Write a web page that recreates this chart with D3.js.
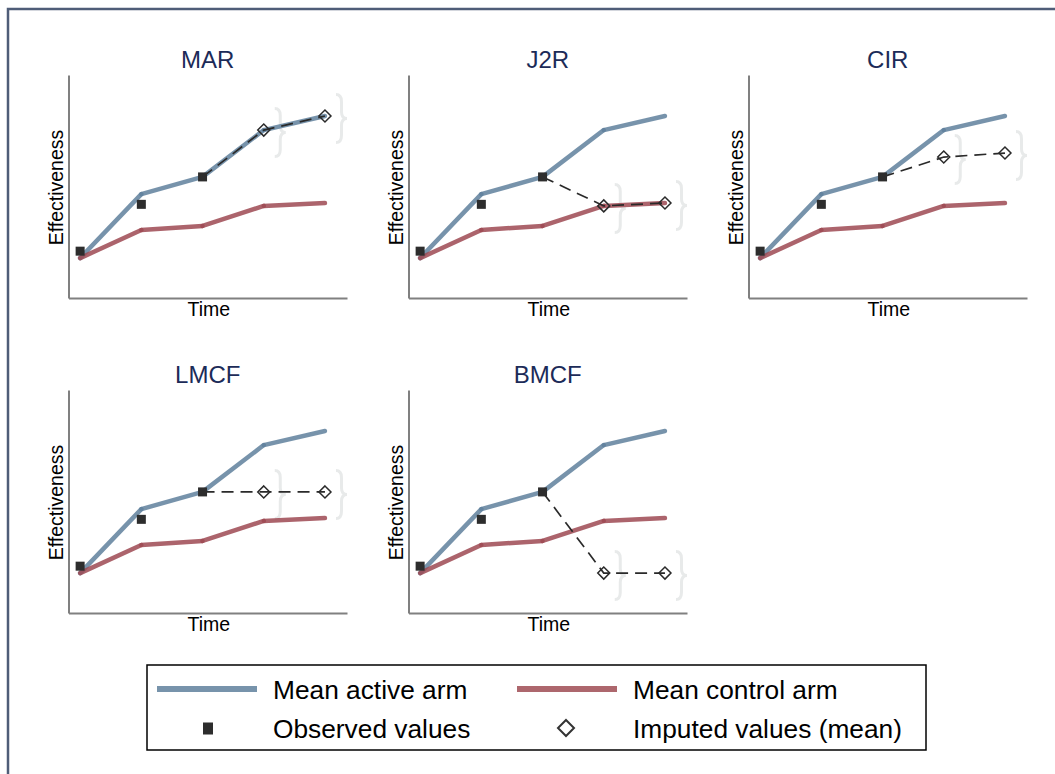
<!DOCTYPE html>
<html><head><meta charset="utf-8">
<script src="https://cdn.jsdelivr.net/npm/d3@7"></script>
<style>body{margin:0;background:#fff;overflow:hidden;} text{font-family:"Liberation Sans",Arial,sans-serif;}</style>
</head><body><svg id="c" width="1055" height="774"></svg>
<script>
// ---- data ----
const panelNames = ["MAR", "J2R", "CIR", "LMCF", "BMCF"];
const panelCols = [0, 1, 2, 0, 1];
const panelRows = [0, 0, 0, 1, 1];
const times = [1, 2, 3, 4, 5];
const activeMean = [1.79, 4.66, 5.43, 7.53, 8.16];
const controlMean = [1.79, 3.05, 3.23, 4.13, 4.26];
const observedTimes = [1, 2, 3];
const observedValues = [2.10, 4.20, 5.43];
const imputedTimes = [4, 5];
const imputedMAR = [7.53, 8.16];
const imputedJ2R = [4.13, 4.26];
const imputedCIR = [6.32, 6.50];
const imputedLMCF = [5.43, 5.43];
const imputedBMCF = [1.79, 1.79];
const imputedByPanel = [imputedMAR, imputedJ2R, imputedCIR, imputedLMCF, imputedBMCF];
const legendLabels = ["Mean active arm", "Mean control arm", "Observed values", "Imputed values (mean)"];

// ---- styles ----
const activeColor = "#5f809c", controlColor = "#9d4952";
const activeLegend = "#7793ab", controlLegend = "#ad676d";
const markColor = "#2d2d2d";
const titleColor = "#1c2b58";
const axisColor = "#808080";

const svg = d3.select("#c");
svg.append("rect").attr("width", 1055).attr("height", 774).attr("fill", "#fff");
svg.append("rect").attr("x", 8).attr("y", 9).attr("width", 1100).attr("height", 900)
  .attr("fill", "none").attr("stroke", "#4f5d78").attr("stroke-width", 2.5);

const colStep = 340, rowStep = 315;

panelNames.forEach((name, p) => {
  const dx = panelCols[p] * colStep, dy = panelRows[p] * rowStep;
  const x = d3.scaleLinear().domain([0.81, 5.36]).range([68.5 + dx, 347 + dx]);
  const y = d3.scaleLinear().domain([0, 10]).range([298 + dy, 75 + dy]);
  const g = svg.append("g");
  const [x0, x1] = x.range();
  const [yb, yt] = y.range();

  // axes
  const ax = g.append("g").attr("transform", `translate(0,${yb})`)
    .call(d3.axisBottom(x).tickValues([]).tickSizeOuter(0));
  const ay = g.append("g").attr("transform", `translate(${x0},0)`)
    .call(d3.axisLeft(y).tickValues([]).tickSizeOuter(0));
  [ax, ay].forEach(a => a.select(".domain").attr("stroke", axisColor).attr("stroke-width", 2));

  // title and labels
  g.append("text").attr("x", (x0 + x1) / 2).attr("y", 68 + dy).attr("text-anchor", "middle")
    .attr("font-size", 24).attr("fill", titleColor).text(name);
  g.append("text").attr("x", (x0 + x1) / 2 + 1).attr("y", yb + 18).attr("text-anchor", "middle")
    .attr("font-size", 19.5).attr("fill", "#000").text("Time");
  g.append("text").attr("transform", `translate(${x0 - 6},${(yb + yt) / 2 + 1}) rotate(-90)`)
    .attr("text-anchor", "middle").attr("font-size", 19.5).attr("fill", "#000").text("Effectiveness");

  // braces
  const imp = imputedByPanel[p];
  imputedTimes.forEach((t, i) => {
    const px = x(t), py = y(imp[i]) + 2.5;
    const a = px + 11, b = px + 16.5, c = px + 22, h = 24;
    const d = `M${a},${py - h} Q${b},${py - h} ${b},${py - h + 7} L${b},${py - 7} Q${b},${py} ${c},${py}` +
      ` Q${b},${py} ${b},${py + 7} L${b},${py + h - 7} Q${b},${py + h} ${a},${py + h}`;
    g.append("path").attr("d", d).attr("fill", "none").attr("stroke", "#e8eaea").attr("stroke-width", 3);
  });

  // mean lines as segments
  [[activeMean, activeColor], [controlMean, controlColor]].forEach(([vals, col]) => {
    for (let i = 0; i < times.length - 1; i++) {
      g.append("line")
        .attr("x1", x(times[i])).attr("y1", y(vals[i]))
        .attr("x2", x(times[i + 1])).attr("y2", y(vals[i + 1]))
        .attr("stroke", col).attr("stroke-opacity", 0.85).attr("stroke-width", 4.5)
        .attr("stroke-linecap", "round");
    }
  });

  // dashed imputation path
  const lastObsT = observedTimes[observedTimes.length - 1];
  const lastObsV = observedValues[observedValues.length - 1];
  const pathPts = [[x(lastObsT), y(lastObsV)]].concat(imputedTimes.map((t, i) => [x(t), y(imp[i])]));
  g.append("path").attr("d", d3.line()(pathPts)).attr("fill", "none")
    .attr("stroke", "#2a2a2a").attr("stroke-width", 1.7).attr("stroke-dasharray", "12,7");

  // observed squares
  observedTimes.forEach((t, i) => {
    g.append("rect").attr("x", x(t) - 4.5).attr("y", y(observedValues[i]) - 4.5)
      .attr("width", 9).attr("height", 9).attr("fill", markColor);
  });
  // imputed diamonds
  imputedTimes.forEach((t, i) => {
    const px = x(t), py = y(imp[i]), r = 6;
    g.append("path").attr("d", `M${px},${py - r} L${px + r},${py} L${px},${py + r} L${px - r},${py} Z`)
      .attr("fill", "none").attr("stroke", "#2a2a2a").attr("stroke-width", 1.5);
  });
});

// ---- legend ----
const lg = svg.append("g");
lg.append("rect").attr("x", 147).attr("y", 665).attr("width", 779).attr("height", 85)
  .attr("fill", "#fff").attr("stroke", "#000").attr("stroke-width", 1.5);
const colX = [157, 517], rowY = [689, 728];
lg.append("line").attr("x1", colX[0]).attr("x2", colX[0] + 100).attr("y1", rowY[0]).attr("y2", rowY[0])
  .attr("stroke", activeLegend).attr("stroke-width", 6);
lg.append("line").attr("x1", colX[1]).attr("x2", colX[1] + 100).attr("y1", rowY[0]).attr("y2", rowY[0])
  .attr("stroke", controlLegend).attr("stroke-width", 6);
lg.append("rect").attr("x", colX[0] + 46).attr("y", rowY[1] - 5.5).attr("width", 10).attr("height", 12)
  .attr("fill", markColor);
{
  const px = colX[1] + 49, py = rowY[1], rx = 8, ry = 8;
  lg.append("path").attr("d", `M${px},${py - ry} L${px + rx},${py} L${px},${py + ry} L${px - rx},${py} Z`)
    .attr("fill", "none").attr("stroke", "#333").attr("stroke-width", 2);
}
legendLabels.forEach((lab, i) => {
  const c = i % 2, r = Math.floor(i / 2);
  lg.append("text").attr("x", colX[c] + 116).attr("y", rowY[r] + 10).attr("font-size", 26.3)
    .attr("fill", "#000").text(lab);
});
</script></body></html>
